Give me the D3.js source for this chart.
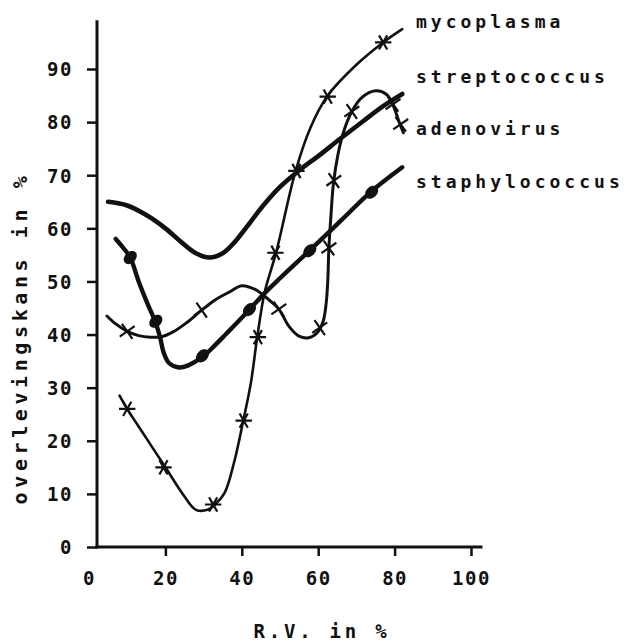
<!DOCTYPE html>
<html>
<head>
<meta charset="utf-8">
<script src="https://cdn.jsdelivr.net/npm/d3@7"></script>
<style>
  html, body { margin: 0; padding: 0; background: #fff; }
  svg { display: block; }
  text { font-family: "DejaVu Sans Mono", monospace; font-weight: bold; fill: #111; }
</style>
</head>
<body>
<svg id="chart" width="629" height="642"></svg>
<script>
// ---------- data ----------
const xTicks = [0, 20, 40, 60, 80, 100];
const yTicks = [0, 10, 20, 30, 40, 50, 60, 70, 80, 90];
const xTitle = "R.V. in %";
const yTitle = "overlevingskans in %";
const seriesNames = ["mycoplasma", "streptococcus", "adenovirus", "staphylococcus"];

// mycoplasma (thin line, asterisk markers)
const mycoX = [8, 10, 15, 20, 25, 28, 31, 33, 35.5, 38, 40.3, 42.4, 44, 46, 49, 54, 58, 62.5, 70, 77, 82];
const mycoY = [28.5, 26, 20.5, 15, 9.5, 7, 7, 8, 10.2, 16, 23.5, 31, 39.3, 48, 55.5, 70.6, 79, 85, 90.8, 95, 97.5];
const mycoMarkX = [10, 19.5, 32.5, 40.5, 44.2, 48.8, 54.3, 62.5, 77];
const mycoMarkY = [26, 15, 8, 23.8, 39.5, 55.4, 70.8, 84.8, 95];

// streptococcus (thick line, no markers)
const strepX = [5, 10, 15, 20, 24, 28, 31.5, 35, 38, 41, 45.5, 50, 55, 60, 66, 72, 77, 82];
const strepY = [65, 64.3, 62.5, 60, 57.5, 55.3, 54.5, 55.3, 57.3, 60, 64.2, 67.8, 70.9, 73.6, 77, 80.3, 83, 85.3];

// adenovirus (line with cross markers)
const adenoX = [4.7, 7, 10, 13, 16, 19, 22, 25.5, 29.5, 33, 36.7, 40, 43.5, 45.5, 47.5, 49.7, 52.3, 55, 57.5, 59.8, 61.3, 62.1, 62.5, 62.8, 63.3, 64, 65.2, 66.8, 68.8, 71.4, 75, 77.9, 79.7, 81, 82.3];
const adenoY = [43.5, 42, 40.6, 39.8, 39.5, 39.6, 40.5, 42.2, 44.6, 46.5, 48, 49.2, 48.5, 47.5, 46.3, 44.8, 41.6, 39.7, 39.4, 40.4, 42.5, 46, 50, 56.3, 62, 68.5, 74, 78.5, 82, 84.6, 85.9, 85.2, 83, 80.4, 78];
const adenoMarkX = [10, 29.5, 49.7, 60.4, 62.8, 64.1, 68.8, 79.6, 81.6];
const adenoMarkY = [40.6, 44.6, 44.8, 41.3, 56.3, 69, 82, 83.4, 79.6];

// staphylococcus (thick line, filled dot markers)
const staphX = [7, 9, 10.8, 13, 15.5, 17.3, 18.6, 19.6, 21, 23.5, 26, 29.7, 33, 36, 39, 42, 46, 50, 58, 66, 74, 82];
const staphY = [58, 56.3, 54.5, 50, 45.5, 42.5, 39.5, 36.5, 34.6, 33.8, 34.2, 35.8, 38, 40.2, 42.4, 44.7, 47.8, 50.6, 56, 61.5, 67, 71.5];
const staphMarkX = [10.8, 17.5, 29.7, 42, 57.8, 74];
const staphMarkY = [54.5, 42.5, 36, 44.7, 55.8, 66.8];

// ---------- layout ----------
const svg = d3.select("#chart");
const x = d3.scaleLinear().domain([0, 100]).range([89, 471]);
const y = d3.scaleLinear().domain([0, 90]).range([547, 69]);
const yAxisX = 97;
const ink = "#111";

// axes
const yAxis = svg.append("g").attr("transform", `translate(${yAxisX},0)`)
  .call(d3.axisLeft(y).tickValues(yTicks).tickSize(10).tickPadding(14));
yAxis.select(".domain").remove();
yAxis.selectAll(".tick line").attr("stroke", ink).attr("stroke-width", 2.5);
yAxis.selectAll(".tick text").attr("font-size", 19).attr("letter-spacing", 1.5)
  .attr("font-family", "DejaVu Sans Mono").attr("font-weight", "bold").attr("fill", ink).attr("dy", "0.36em");
svg.append("line").attr("x1", yAxisX).attr("x2", yAxisX).attr("y1", y(0) + 1.5).attr("y2", y(99.2))
  .attr("stroke", ink).attr("stroke-width", 3);

const xAxis = svg.append("g").attr("transform", `translate(0,${y(0)})`)
  .call(d3.axisBottom(x).tickValues(xTicks).tickSize(9));
xAxis.select(".domain").remove();
xAxis.selectAll(".tick line").attr("stroke", ink).attr("stroke-width", 2.5)
  .attr("opacity", d => d === 0 ? 0 : 1);
xAxis.selectAll(".tick text").attr("font-size", 19).attr("letter-spacing", 1.5)
  .attr("font-family", "DejaVu Sans Mono").attr("font-weight", "bold").attr("fill", ink)
  .attr("y", 38).attr("dy", 0);
svg.append("line").attr("x1", yAxisX - 1.5).attr("x2", x(103)).attr("y1", y(0)).attr("y2", y(0))
  .attr("stroke", ink).attr("stroke-width", 3);

// titles
svg.append("text").attr("x", 322).attr("y", 638).attr("text-anchor", "middle")
  .attr("font-size", 19).attr("letter-spacing", 3.8).text(xTitle);
svg.append("text").attr("transform", "translate(27,338) rotate(-90)").attr("text-anchor", "middle")
  .attr("font-size", 20).attr("letter-spacing", 4.6).text(yTitle);

// ---------- series ----------
const line = d3.line().x(d => x(d[0])).y(d => y(d[1])).curve(d3.curveCatmullRom.alpha(0.5));
const zip = (a, b) => a.map((v, i) => [v, b[i]]);

const series = [
  { name: seriesNames[0], pts: zip(mycoX, mycoY), marks: zip(mycoMarkX, mycoMarkY), w: 2.6, mark: "asterisk" },
  { name: seriesNames[1], pts: zip(strepX, strepY), marks: [], w: 4.6, mark: null },
  { name: seriesNames[2], pts: zip(adenoX, adenoY), marks: zip(adenoMarkX, adenoMarkY), w: 3.0, mark: "times" },
  { name: seriesNames[3], pts: zip(staphX, staphY), marks: zip(staphMarkX, staphMarkY), w: 4.4, mark: "dot" }
];

series.forEach(s => {
  svg.append("path").datum(s.pts).attr("d", line)
    .attr("fill", "none").attr("stroke", ink).attr("stroke-width", s.w)
    .attr("stroke-linecap", "round").attr("stroke-linejoin", "round");
  if (s.mark === "asterisk") {
    svg.selectAll(null).data(s.marks).enter().append("path")
      .attr("d", d3.symbol(d3.symbolAsterisk, 190)())
      .attr("transform", d => `translate(${x(d[0])},${y(d[1])}) rotate(90)`)
      .attr("fill", "none").attr("stroke", ink).attr("stroke-width", 2.2);
  } else if (s.mark === "times") {
    svg.selectAll(null).data(s.marks).enter().append("path")
      .attr("d", d3.symbol(d3.symbolTimes, 110)())
      .attr("transform", d => `translate(${x(d[0])},${y(d[1])}) rotate(10)`)
      .attr("fill", "none").attr("stroke", ink).attr("stroke-width", 2.2);
  } else if (s.mark === "dot") {
    svg.selectAll(null).data(s.marks).enter().append("ellipse")
      .attr("cx", d => x(d[0])).attr("cy", d => y(d[1]))
      .attr("rx", 7.5).attr("ry", 5.5)
      .attr("transform", d => `rotate(-45,${x(d[0])},${y(d[1])})`)
      .attr("fill", ink);
  }
});

// series labels
const labelBaselines = [28, 83, 135, 188];
svg.selectAll(null).data(seriesNames).enter().append("text")
  .attr("x", 416).attr("y", (d, i) => labelBaselines[i])
  .attr("font-size", 18).attr("letter-spacing", 4).text(d => d);
</script>
</body>
</html>
